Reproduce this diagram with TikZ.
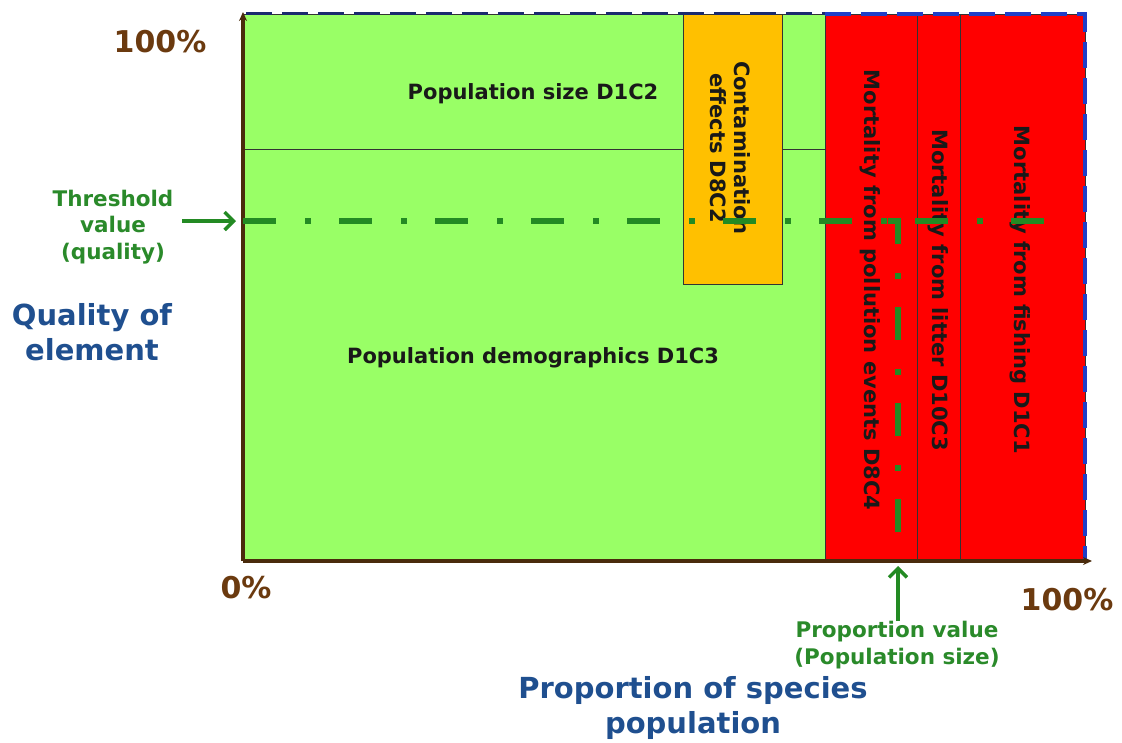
\documentclass[tikz,border=0pt]{standalone}
\usepackage{fontspec}
\setmainfont{DejaVu Sans}
\usetikzlibrary{arrows.meta}

\definecolor{fieldgreen}{HTML}{99FF66}
\definecolor{alarmred}{HTML}{FF0000}
\definecolor{ambercell}{HTML}{FFC000}
\definecolor{edgeblue}{HTML}{1F3FC8}
\definecolor{edgenavy}{HTML}{1A2A6E}
\definecolor{axisbrown}{HTML}{4A2B0C}
\definecolor{pctbrown}{HTML}{6B3A0F}
\definecolor{titleblue}{HTML}{1F4F8F}
\definecolor{markgreen}{HTML}{238A23}
\definecolor{notegreen}{HTML}{2A8A2A}

\tikzset{
  cell/.style={draw=black!80, line width=1pt},
  lbl/.style={font=\bfseries\fontsize{21}{24}\selectfont, text=black!90, align=center, inner sep=0pt},
  ttl/.style={font=\bfseries\fontsize{29}{35}\selectfont, text=titleblue, align=center, inner sep=0pt},
  pct/.style={font=\bfseries\fontsize{30}{34}\selectfont, text=pctbrown, inner sep=0pt},
  note/.style={font=\bfseries\fontsize{21.5}{26.5}\selectfont, text=notegreen, align=center, inner sep=0pt},
  limitline/.style={draw=markgreen, line width=6pt, dash pattern=on 33pt off 29pt on 6pt off 28pt},
  pointer/.style={draw=markgreen, line width=3.5pt, -{Straight Barb[length=9pt,width=18pt,line width=3.5pt]}},
  axis/.style={draw=axisbrown, line width=3.2pt, -{Stealth[length=9pt,width=8pt]}},
}

\begin{document}
\begin{tikzpicture}[x=1pt,y=-1pt]
  \useasboundingbox (0,0) rectangle (1122,742);

  % population area (green), split by a thin line
  \path[cell, fill=fieldgreen] (243,14) rectangle (825,561);
  \draw[black!80, line width=1pt] (243,149) -- (825,149);
  % contamination column (amber)
  \path[cell, fill=ambercell] (683,14) rectangle (782,284);
  % mortality block (red) with its sub-columns
  \path[cell, fill=alarmred] (825,14) rectangle (1085,561);
  \draw[black!80, line width=1pt] (917,14) -- (917,561);
  \draw[black!80, line width=1pt] (960,14) -- (960,561);

  % cell labels
  \node[lbl] (size) at (533,94) {Population size D1C2};
  \node[lbl] (demo) at (533,358) {Population demographics D1C3};
  \node[lbl, rotate=-90] (cont) at (730,148) {Contamination\\effects D8C2};
  \node[lbl, rotate=-90] (poll) at (870,290) {Mortality from pollution events D8C4};
  \node[lbl, rotate=-90] (litt) at (938,290) {Mortality from litter D10C3};
  \node[lbl, rotate=-90] (fish) at (1020,290) {Mortality from fishing D1C1};

  % outer dashed boundary
  \draw[edgenavy, line width=3pt, dash pattern=on 26pt off 10pt] (246,13) -- (825,13);
  \draw[edgeblue, line width=4.5pt, dash pattern=on 26pt off 10pt] (825,14) -- (1085,14) -- (1085,561);

  % axes
  \coordinate (origin) at (243,561);
  \coordinate (ytop) at (243,12);
  \coordinate (xend) at (1092,561);
  \draw[axis] (origin) -- (ytop);
  \draw[axis] (origin) -- (xend);

  % threshold and proportion limits
  \coordinate (thA) at (243,221);
  \coordinate (thB) at (1050,221);
  \coordinate (pvA) at (888,221);
  \coordinate (pvK) at (898,221);
  \coordinate (pvB) at (898,545);
  \draw[limitline] (thA) -- (thB);
  \draw[limitline] (pvA) -- (pvK) -- (pvB);

  % axis annotations
  \node[pct] (ymax) at (160,42) {100\%};
  \node[pct] (zero) at (246,588) {0\%};
  \node[pct] (xmax) at (1067,600) {100\%};

  \node[note] (thr) at (113,227) {Threshold\\value\\(quality)};
  \coordinate (thrTip) at (236,221);
  \draw[pointer] (182,221) -- (thrTip);

  \node[note] (prop) at (897,645) {Proportion value\\(Population size)};
  \coordinate (propTip) at (898,566);
  \draw[pointer] (prop.north -| propTip) -- (propTip);

  \node[ttl] (qual) at (92,332) {Quality of\\element};
  \node[ttl] (share) at (693,708) {Proportion of species\\population};
\end{tikzpicture}
\end{document}
